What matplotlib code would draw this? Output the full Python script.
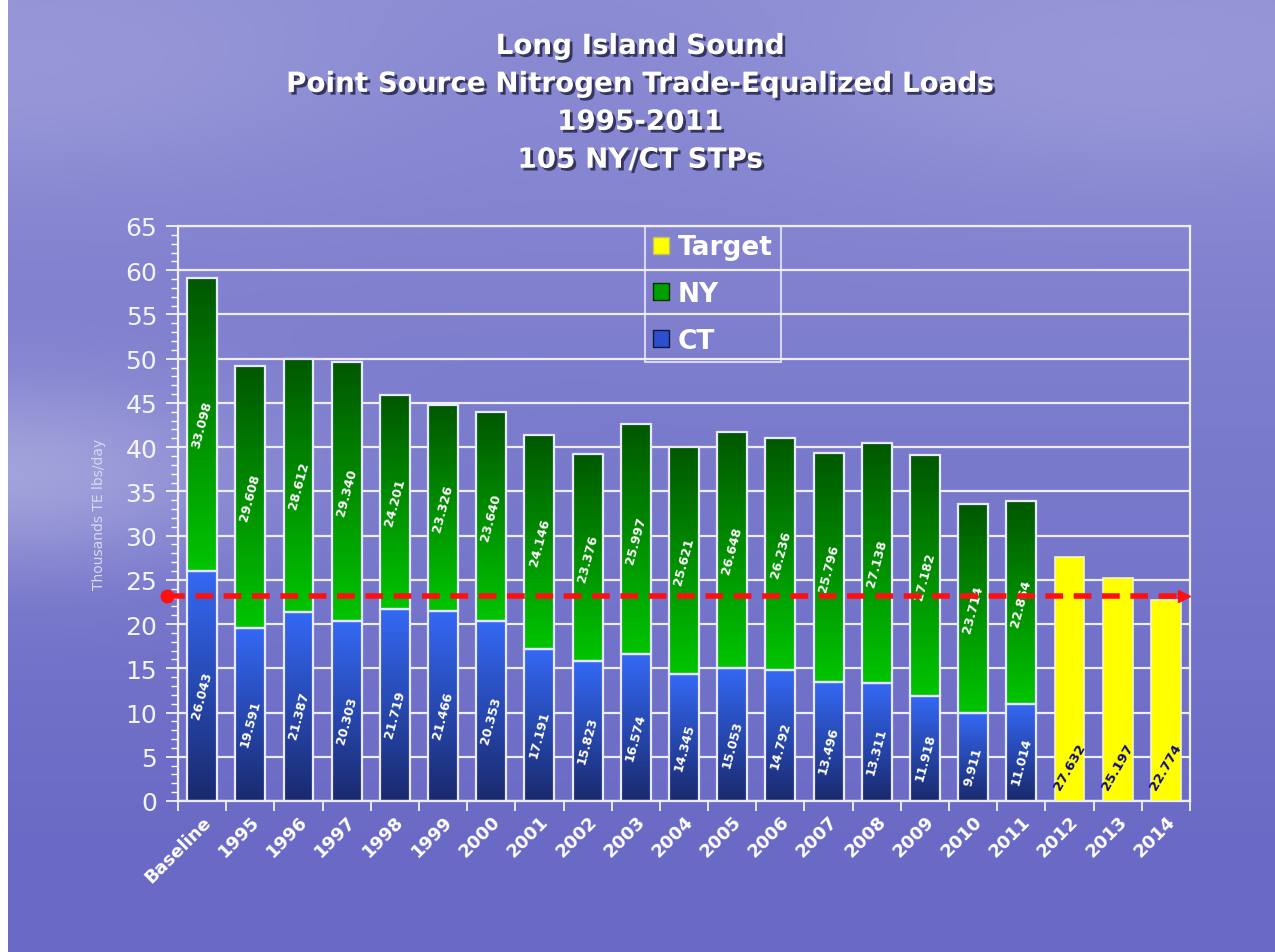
import numpy as np
import matplotlib
matplotlib.use('Agg')
import matplotlib.pyplot as plt
from matplotlib.patches import Patch
import matplotlib.patheffects as pe

# data (thousand TE lbs/day)
years = ['Baseline', '1995', '1996', '1997', '1998', '1999', '2000', '2001', '2002',
         '2003', '2004', '2005', '2006', '2007', '2008', '2009', '2010', '2011',
         '2012', '2013', '2014']
ct = [26.043, 19.591, 21.387, 20.303, 21.719, 21.466, 20.353, 17.191, 15.823,
      16.574, 14.345, 15.053, 14.792, 13.496, 13.311, 11.918, 9.911, 11.014]
ny = [33.098, 29.608, 28.612, 29.340, 24.201, 23.326, 23.640, 24.146, 23.376,
      25.997, 25.621, 26.648, 26.236, 25.796, 27.138, 27.182, 23.714, 22.864]
target = [27.632, 25.197, 22.774]
target_line = 23.2

title = 'Long Island Sound\nPoint Source Nitrogen Trade-Equalized Loads\n1995-2011\n105 NY/CT STPs'

W, H = 1275, 953
fig = plt.figure(figsize=(W / 100, H / 100), dpi=100)
fig.patch.set_facecolor('white')

# background: purple sky / water gradient
bg = fig.add_axes([8 / W, 0, 1 - 8 / W, 1])
yy, xx = np.mgrid[0:1:400j, 0:1:500j]
top = np.array([140, 140, 212]) / 255
bot = np.array([106, 106, 198]) / 255
t = np.clip(yy / 0.9, 0, 1)[..., None]
img = top * (1 - t) + bot * t
glow = np.exp(-((xx - 0.0) / 0.2) ** 2 - ((yy - 0.5) / 0.1) ** 2)[..., None]
img = img + glow * (np.array([1, 1, 1]) - img) * 0.3
sky = np.exp(-((yy - 0.08) / 0.12) ** 2)[..., None] * (0.5 + 0.5 * np.cos(xx * 7))[..., None]
img = img + sky * (np.array([1, 1, 1]) - img) * 0.12
bg.imshow(np.clip(img, 0, 1), aspect='auto', extent=[0, 1, 1, 0])
bg.axis('off')

ax = fig.add_axes([178 / W, 1 - 802 / H, (1190 - 178) / W, (802 - 227) / H])
ax.patch.set_alpha(0)

x = np.arange(len(years))
xh = x[:len(ct)]
xt = x[len(ct):]
w = 0.62

def grad_fill(patches, c_top, c_bot):
    c_top = np.array(matplotlib.colors.to_rgb(c_top))
    c_bot = np.array(matplotlib.colors.to_rgb(c_bot))
    g = np.linspace(0, 1, 64)[:, None, None]
    arr = c_top * (1 - g) + c_bot * g
    for p in patches:
        x0, y0 = p.get_x(), p.get_y()
        im = ax.imshow(arr, aspect='auto', extent=[x0, x0 + p.get_width(), y0, y0 + p.get_height()],
                       zorder=2, origin='upper')
        im.set_clip_path(p)

b_ct = ax.bar(xh, ct, w, facecolor='none', edgecolor='#e8e8ff', lw=1.6, zorder=3)
b_ny = ax.bar(xh, ny, w, bottom=ct, facecolor='none', edgecolor='#e8e8ff', lw=1.6, zorder=3)
b_tg = ax.bar(xt, target, w, facecolor='#ffff00', edgecolor='#f4f4c0', lw=1.2, zorder=3)
grad_fill(b_ct, '#3468f4', '#1a2a6e')
grad_fill(b_ny, '#005800', '#00c400')

for xi, c, n in zip(xh, ct, ny):
    ax.text(xi, c / 2 - 1, f'{c:.3f}', rotation=75, ha='center', va='center', color='white',
            fontsize=9, fontweight='bold', zorder=5)
    ax.text(xi, c + n / 2, f'{n:.3f}', rotation=75, ha='center', va='center', color='white',
            fontsize=9, fontweight='bold', zorder=5)
for xi, v in zip(xt, target):
    ax.text(xi, 3.9, f'{v:.3f}', rotation=60, ha='center', va='center', color='#0a0a80',
            fontsize=9.5, fontweight='bold', zorder=5)

# target line
ax.plot([-0.72, 20.38], [target_line, target_line], color='#ff1010', lw=4,
        linestyle=(0, (3.2, 1.9)), zorder=6, clip_on=False)
ax.plot([-0.72], [target_line], 'o', color='#ff1010', ms=9, zorder=6, clip_on=False)
ax.plot([20.38], [target_line], '>', color='#ff1010', ms=9, zorder=6, clip_on=False)

ax.set_xlim(-0.5, len(years) - 0.5)
ax.set_ylim(0, 65)
ax.set_yticks(np.arange(0, 66, 5))
ax.set_yticks(np.arange(0, 66, 1), minor=True)
ax.yaxis.grid(True, color='#eeeeff', lw=1.6, zorder=0)
ax.set_axisbelow(True)
ax.set_xticks(x)
ax.set_xticks(np.arange(-0.5, len(years), 1), minor=True)
ax.set_xticklabels(years, rotation=45, ha='right', rotation_mode='anchor', color='white',
                   fontsize=13, fontweight='bold')
ax.tick_params(axis='x', which='major', length=0, pad=8)
ax.tick_params(axis='x', which='minor', length=7, color='white', width=1.2)
ax.tick_params(axis='y', which='major', length=9, color='white', width=1.2,
               labelcolor='#f4f4ff', labelsize=18, pad=6)
ax.tick_params(axis='y', which='minor', length=5, color='white', width=1)
for s in ax.spines.values():
    s.set_color('#eeeeff')
    s.set_linewidth(1.6)
ax.set_ylabel('Thousands TE lbs/day', color='#d8d8f0', fontsize=10, labelpad=14)

handles = [Patch(facecolor='#ffff00', edgecolor='#c0c060'),
           Patch(facecolor='#00a000', edgecolor='#003000'),
           Patch(facecolor='#2a50d0', edgecolor='#101840')]
leg = ax.legend(handles, ['Target', 'NY', 'CT'], loc='upper left', bbox_to_anchor=(0.461, 1.0),
                borderaxespad=0, frameon=True, fancybox=False, handlelength=0.6, handleheight=0.6,
                handletextpad=0.35, labelspacing=0.78, borderpad=0.32,
                prop={'size': 19, 'weight': 'bold'})
leg.get_frame().set_facecolor('none')
leg.get_frame().set_edgecolor('#eeeeff')
leg.get_frame().set_linewidth(1.5)
for txt in leg.get_texts():
    txt.set_color('white')
leg.set_zorder(7)

fig.text(0.502, 1 - 33 / H, title, ha='center', va='top', color='white', fontsize=20,
         fontweight='bold', linespacing=1.45,
         path_effects=[pe.withSimplePatchShadow(offset=(2, -2), shadow_rgbFace='#202040', alpha=0.8)])

fig.savefig('out.png', dpi=100)
